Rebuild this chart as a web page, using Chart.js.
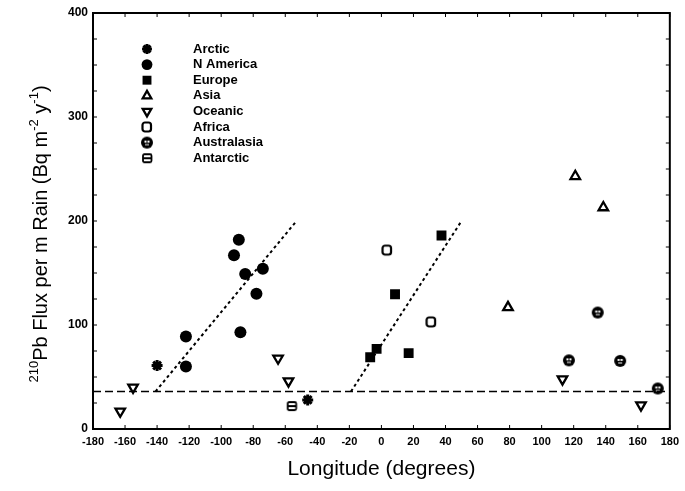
<!DOCTYPE html>
<html>
<head>
<meta charset="utf-8">
<script src="https://cdn.jsdelivr.net/npm/chart.js@4.4.1/dist/chart.umd.min.js"></script>
<style>
  html, body { margin: 0; padding: 0; background: #fff; }
</style>
</head>
<body>
<canvas id="flux" width="685" height="491"></canvas>
<script>
// longitude (deg) / flux (Bq m-2 y-1)
const arcticX = [-140, -46];
const arcticY = [61, 28];
const nAmericaX = [-122, -122, -92, -89, -85, -74, -78, -88];
const nAmericaY = [89, 60, 167, 182, 149, 154, 130, 93];
const europeX = [-7, -3, 8.5, 17, 37.5];
const europeY = [69, 77, 129.5, 73, 186];
const asiaX = [79, 121, 138.5];
const asiaY = [117, 243, 213];
const oceanicX = [-163, -155, -64.5, -58, 113, 162];
const oceanicY = [17, 40, 68, 46, 48, 23];
const africaX = [3.5, 31];
const africaY = [172, 103];
const australasiaX = [117, 135, 149, 172.5];
const australasiaY = [66, 112, 65.5, 39];
const antarcticX = [-56];
const antarcticY = [22];

// background level and the two hand-drawn trend lines
const baseX = [-180, 180];
const baseY = [36, 36];
const naFitX = [-141, -53];
const naFitY = [36, 200];
const euFitX = [-19, 50];
const euFitY = [36, 200];

const xTicks = [-180, 180, 20];
const yTicks = [0, 400, 25];

const pts = (xs, ys) => xs.map((x, i) => ({x: x, y: ys[i]}));

// little canvases for the markers chart.js doesn't have
function marker(draw) {
  const c = document.createElement('canvas');
  c.width = 14; c.height = 14;
  draw(c.getContext('2d'));
  return c;
}
const ausMark = marker(g => {
  g.fillStyle = '#000';
  g.beginPath(); g.arc(7, 7, 6, 0, Math.PI * 2); g.fill();
  g.fillStyle = '#fff';
  g.fillRect(4.5, 5, 2, 2);
  g.fillRect(7.5, 5, 2, 2);
  g.fillRect(5, 8.5, 4, 1);
});
const antMark = marker(g => {
  g.strokeStyle = '#000'; g.lineWidth = 1.8;
  g.beginPath();
  g.roundRect(3, 3, 8.5, 8, 1.5);
  g.moveTo(3, 7); g.lineTo(11.5, 7);
  g.stroke();
});
const afrMark = marker(g => {
  g.strokeStyle = '#000'; g.lineWidth = 2.2;
  g.beginPath();
  g.roundRect(2.5, 2.5, 8.5, 9, 2.5);
  g.stroke();
});

Chart.defaults.font.family = "'Liberation Sans', Arial, sans-serif";
Chart.defaults.color = '#000';

const series = [
  {label: 'Arctic', data: pts(arcticX, arcticY), pointStyle: 'star', pointRadius: 5.5, borderWidth: 3, borderColor: '#000', backgroundColor: '#000'},
  {label: 'N America', data: pts(nAmericaX, nAmericaY), pointStyle: 'circle', pointRadius: 6, borderWidth: 0, borderColor: '#000', backgroundColor: '#000'},
  {label: 'Europe', data: pts(europeX, europeY), pointStyle: 'rect', pointRadius: 7, borderWidth: 0, borderColor: '#000', backgroundColor: '#000'},
  {label: 'Asia', data: pts(asiaX, asiaY), pointStyle: 'triangle', pointRadius: 5.5, borderWidth: 2.3, borderColor: '#000', backgroundColor: '#fff'},
  {label: 'Oceanic', data: pts(oceanicX, oceanicY), pointStyle: 'triangle', rotation: 180, pointRotation: 180, pointRadius: 5.5, borderWidth: 2.3, borderColor: '#000', backgroundColor: '#fff'},
  {label: 'Africa', data: pts(africaX, africaY), pointStyle: afrMark, pointRadius: 5, borderWidth: 0, borderColor: '#000', backgroundColor: '#fff'},
  {label: 'Australasia', data: pts(australasiaX, australasiaY), pointStyle: ausMark, pointRadius: 5, borderWidth: 0, borderColor: '#000', backgroundColor: '#000'},
  {label: 'Antarctic', data: pts(antarcticX, antarcticY), pointStyle: antMark, pointRadius: 5, borderWidth: 0, borderColor: '#000', backgroundColor: '#fff'}
];
series.forEach(s => { s.showLine = false; s.inKey = true; });

const lines = [
  {data: pts(baseX, baseY), borderDash: [8, 4], borderWidth: 1.5},
  {data: pts(naFitX, naFitY), borderDash: [3, 3], borderWidth: 2},
  {data: pts(euFitX, euFitY), borderDash: [3, 3], borderWidth: 2}
].map(l => Object.assign(l, {showLine: true, pointRadius: 0, borderColor: '#000', backgroundColor: '#000', inKey: false}));

// frame with inward ticks on all four sides
const frame = {
  id: 'frame',
  afterDatasetsDraw(chart) {
    const {ctx, chartArea: a, scales} = chart;
    ctx.save();
    ctx.strokeStyle = '#000';
    ctx.lineWidth = 2;
    ctx.strokeRect(a.left, a.top, a.right - a.left, a.bottom - a.top);
    ctx.lineWidth = 1;
    ctx.beginPath();
    scales.x.ticks.forEach(t => {
      const px = scales.x.getPixelForValue(t.value);
      ctx.moveTo(px, a.bottom); ctx.lineTo(px, a.bottom - 4);
      ctx.moveTo(px, a.top); ctx.lineTo(px, a.top + 4);
    });
    scales.y.ticks.forEach(t => {
      const py = scales.y.getPixelForValue(t.value);
      ctx.moveTo(a.left, py); ctx.lineTo(a.left + 4, py);
      ctx.moveTo(a.right, py); ctx.lineTo(a.right - 4, py);
    });
    ctx.stroke();
    ctx.restore();
  }
};

// key inside the plot, top left
const key = {
  id: 'key',
  afterDatasetsDraw(chart) {
    const ctx = chart.ctx;
    let row = 0;
    chart.data.datasets.forEach(ds => {
      if (!ds.inKey) return;
      const y = 49 + row * 15.6;
      ctx.save();
      ctx.fillStyle = ds.backgroundColor;
      ctx.strokeStyle = ds.borderColor;
      ctx.lineWidth = ds.borderWidth;
      Chart.helpers.drawPoint(ctx, {
        pointStyle: ds.pointStyle,
        radius: ds.pointRadius * 0.9,
        rotation: ds.pointRotation || 0,
        borderWidth: ds.borderWidth
      }, 147, y);
      ctx.fillStyle = '#000';
      ctx.font = "bold 13px 'Liberation Sans', Arial, sans-serif";
      ctx.textBaseline = 'middle';
      ctx.fillText(ds.label, 193, y);
      ctx.restore();
      row++;
    });
  }
};

// y title needs superscripts, so it is drawn by hand
const yTitle = {
  id: 'yTitle',
  afterDraw(chart) {
    const ctx = chart.ctx;
    const parts = [['210', true], ['Pb Flux per m Rain (Bq m', false], ['-2', true], [' y', false], ['-1', true], [')', false]];
    const big = "20px 'Liberation Sans', Arial, sans-serif";
    const small = "13px 'Liberation Sans', Arial, sans-serif";
    ctx.save();
    let w = 0;
    parts.forEach(p => { ctx.font = p[1] ? small : big; w += ctx.measureText(p[0]).width; });
    ctx.translate(47, 234);
    ctx.rotate(-Math.PI / 2);
    ctx.fillStyle = '#000';
    ctx.textBaseline = 'alphabetic';
    let x = -w / 2;
    parts.forEach(p => {
      ctx.font = p[1] ? small : big;
      ctx.fillText(p[0], x, p[1] ? -9 : 0);
      x += ctx.measureText(p[0]).width;
    });
    ctx.restore();
  }
};

new Chart(document.getElementById('flux'), {
  type: 'scatter',
  data: {datasets: lines.concat(series)},
  options: {
    responsive: false,
    animation: false,
    layout: {padding: {top: 13, right: 13, left: 0, bottom: 0}},
    plugins: {legend: {display: false}, tooltip: {enabled: false}},
    scales: {
      x: {
        type: 'linear',
        min: xTicks[0], max: xTicks[1],
        afterFit: s => { s.height = 62; },
        grid: {display: false, drawTicks: false},
        border: {display: false},
        ticks: {stepSize: xTicks[2], autoSkip: false, maxRotation: 0, padding: 6,
                font: {size: 11, weight: 'bold'}},
        title: {display: true, text: 'Longitude (degrees)', font: {size: 21}, padding: {top: 0, bottom: 9}}
      },
      y: {
        type: 'linear',
        min: yTicks[0], max: yTicks[1],
        afterFit: s => { s.width = 93; },
        grid: {display: false, drawTicks: false},
        border: {display: false},
        ticks: {stepSize: yTicks[2], padding: 5, font: {size: 12, weight: 'bold'},
                callback: v => (v % 100 === 0 ? v : '')}
      }
    }
  },
  plugins: [frame, key, yTitle]
});
</script>
</body>
</html>
